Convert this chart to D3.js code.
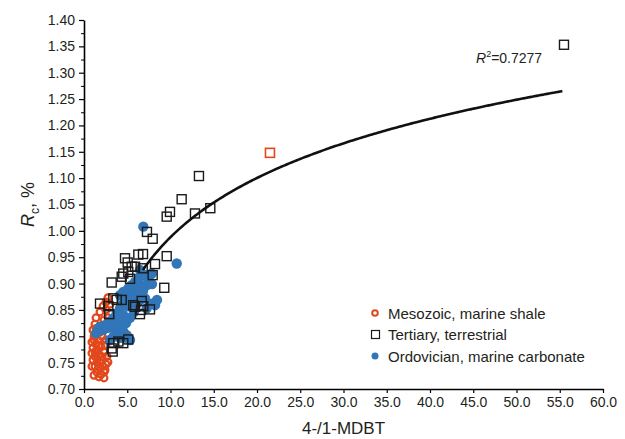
<!DOCTYPE html>
<html>
<head>
<meta charset="utf-8">
<script src="https://cdn.jsdelivr.net/npm/d3@7"></script>
<style>
  body { margin: 0; background: #fff; }
  svg { font-family: "Liberation Sans", Arial, sans-serif; }
</style>
</head>
<body>
<div id="chart"></div>
<script>
// Mesozoic, marine shale  [4-/1-MDBT, Rc %]
const mesozoic = [
  [2.77, 0.873], [2.54, 0.865], [2.20, 0.857], [3.00, 0.861], [1.85, 0.846],
  [1.39, 0.835], [1.27, 0.823], [1.73, 0.817], [1.50, 0.812], [2.31, 0.831],
  [2.77, 0.835], [1.16, 0.800], [1.62, 0.793], [1.39, 0.785], [1.04, 0.778],
  [1.50, 0.774], [1.97, 0.780], [0.92, 0.768], [1.27, 0.762], [1.73, 0.766],
  [2.31, 0.770], [2.66, 0.762], [1.04, 0.755], [1.50, 0.751], [1.97, 0.755],
  [1.27, 0.743], [1.73, 0.740], [2.20, 0.743], [2.54, 0.747], [1.50, 0.732],
  [1.97, 0.728], [2.31, 0.732], [1.73, 0.723], [1.16, 0.793], [2.08, 0.800],
  [1.39, 0.815], [0.92, 0.789], [1.85, 0.751], [2.43, 0.736], [1.04, 0.812],
  [1.27, 0.770], [2.08, 0.761], [1.73, 0.783], [2.43, 0.783], [1.85, 0.808],
  [2.54, 0.850], [2.20, 0.821], [1.16, 0.726], [2.31, 0.721], [0.92, 0.743],
  [2.77, 0.751], [2.54, 0.793]
];
// highlighted Mesozoic sample drawn as a square
const mesozoicSquare = [[21.5, 1.148]];

// Tertiary, terrestrial
const tertiary = [
  [55.49, 1.353], [13.29, 1.104], [11.29, 1.060], [9.94, 1.036], [9.56, 1.027],
  [12.83, 1.033], [14.60, 1.043], [7.28, 0.998], [7.94, 0.985], [9.56, 0.952],
  [8.21, 0.937], [7.94, 0.916], [6.82, 0.956], [6.28, 0.955], [6.79, 0.929],
  [9.28, 0.892], [4.74, 0.948], [5.05, 0.940], [5.51, 0.932], [5.90, 0.932],
  [4.54, 0.919], [4.36, 0.913], [5.12, 0.922], [5.32, 0.909], [3.20, 0.902],
  [3.39, 0.872], [3.78, 0.869], [4.36, 0.869], [1.85, 0.862], [2.81, 0.857],
  [5.70, 0.859], [5.90, 0.856], [6.67, 0.867], [6.86, 0.857], [6.59, 0.850],
  [7.63, 0.851], [6.47, 0.842], [2.92, 0.842], [5.12, 0.794], [3.39, 0.787],
  [3.97, 0.790], [4.54, 0.787], [3.20, 0.777], [3.32, 0.771]
];

// Ordovician, marine carbonate
const ordovician = [
  [6.86, 1.008], [10.72, 0.938], [6.47, 0.926], [7.05, 0.916], [7.43, 0.910],
  [7.83, 0.919], [6.67, 0.897], [6.28, 0.891], [5.90, 0.884], [5.32, 0.878],
  [4.94, 0.872], [5.51, 0.865], [7.83, 0.862], [7.25, 0.853], [4.54, 0.862],
  [4.16, 0.853], [3.78, 0.843], [4.54, 0.840], [3.39, 0.834], [3.01, 0.828],
  [2.43, 0.821], [1.85, 0.818], [4.16, 0.831], [3.58, 0.812], [4.54, 0.809],
  [4.94, 0.802], [5.12, 0.796], [3.78, 0.802], [3.39, 0.799], [6.08, 0.862],
  [6.47, 0.869], [7.05, 0.872], [6.28, 0.907], [5.90, 0.903], [5.51, 0.897],
  [5.12, 0.891], [4.54, 0.884], [4.16, 0.878], [3.01, 0.793], [5.32, 0.793],
  [2.20, 0.812], [2.77, 0.816], [3.93, 0.821], [4.86, 0.825], [5.32, 0.835],
  [5.78, 0.846], [5.09, 0.857], [6.13, 0.876], [6.82, 0.886], [7.28, 0.897],
  [7.86, 0.899], [8.21, 0.859], [1.62, 0.812], [1.39, 0.806], [4.16, 0.797],
  [6.47, 0.914], [8.44, 0.869]
];

// logarithmic trend line  Rc = a*ln(x) + b, drawn over this x range
const fitA = 0.162;
const fitB = 0.615;
const fitRange = [6.8, 55.3];
const fitLabel = "0.7277";

const xTicks = d3.range(0, 60.01, 5);
const yTicks = d3.range(0.70, 1.4001, 0.05);
const legendLabels = ["Mesozoic, marine shale", "Tertiary, terrestrial", "Ordovician, marine carbonate"];

const red = "#e2481c";
const blue = "#3176b8";
const ink = "#231f20";

const width = 625, height = 439;
const svg = d3.select("#chart").append("svg")
  .attr("width", width)
  .attr("height", height);

const x = d3.scaleLinear().domain([0, 60]).range([84, 603]);
const y = d3.scaleLinear().domain([0.7, 1.4]).range([389, 20]);

// minor y ticks
svg.append("g")
  .attr("transform", `translate(${x(0)},0)`)
  .call(d3.axisLeft(y).tickValues(yTicks.slice(0, -1).map(v => v + 0.025)).tickSize(3).tickFormat(""))
  .call(g => g.select(".domain").remove())
  .call(g => g.selectAll("line").attr("stroke", "#000").attr("stroke-width", 1));

// y axis
svg.append("g")
  .attr("transform", `translate(${x(0)},0)`)
  .call(d3.axisLeft(y).tickValues(yTicks).tickFormat(d3.format(".2f")).tickSize(5).tickSizeOuter(0))
  .call(g => g.select(".domain").attr("stroke", "#000").attr("stroke-width", 1.6))
  .call(g => g.selectAll("line").attr("stroke", "#000").attr("stroke-width", 1.2))
  .call(g => g.selectAll("text").attr("font-size", 14).attr("fill", ink).attr("font-family", null).attr("x", -9));

// x axis
svg.append("g")
  .attr("transform", `translate(0,${y(0.7)})`)
  .call(d3.axisBottom(x).tickValues(xTicks).tickFormat(d3.format(".1f")).tickSize(4).tickSizeOuter(0))
  .call(g => g.select(".domain").attr("stroke", "#000").attr("stroke-width", 1.6))
  .call(g => g.selectAll("line").attr("stroke", "#000").attr("stroke-width", 1.2))
  .call(g => g.selectAll("text").attr("font-size", 14).attr("fill", ink).attr("font-family", null).attr("y", 8));

// axis titles
svg.append("text")
  .attr("x", (x(0) + x(60)) / 2)
  .attr("y", 434)
  .attr("text-anchor", "middle")
  .attr("font-size", 17)
  .attr("fill", ink)
  .text("4-/1-MDBT");

const yTitle = svg.append("text")
  .attr("transform", `translate(34,${(y(0.7) + y(1.4)) / 2}) rotate(-90)`)
  .attr("text-anchor", "middle")
  .attr("font-size", 18)
  .attr("fill", ink);
yTitle.append("tspan").attr("font-style", "italic").text("R");
yTitle.append("tspan").attr("font-size", 12).attr("dy", 5).text("c");
yTitle.append("tspan").attr("dy", -5).text(", %");

// points: Mesozoic circles
svg.append("g")
  .selectAll("circle")
  .data(mesozoic)
  .join("circle")
  .attr("cx", d => x(d[0]))
  .attr("cy", d => y(d[1]))
  .attr("r", 3.4)
  .attr("fill", "none")
  .attr("stroke", red)
  .attr("stroke-width", 2.2);

svg.append("g")
  .selectAll("rect")
  .data(mesozoicSquare)
  .join("rect")
  .attr("x", d => x(d[0]) - 4.5)
  .attr("y", d => y(d[1]) - 4.5)
  .attr("width", 9)
  .attr("height", 9)
  .attr("fill", "none")
  .attr("stroke", red)
  .attr("stroke-width", 1.6);

// Ordovician filled circles
svg.append("g")
  .selectAll("circle")
  .data(ordovician)
  .join("circle")
  .attr("cx", d => x(d[0]))
  .attr("cy", d => y(d[1]))
  .attr("r", 5.2)
  .attr("fill", blue);

// Tertiary squares
svg.append("g")
  .selectAll("rect")
  .data(tertiary)
  .join("rect")
  .attr("x", d => x(d[0]) - 4.5)
  .attr("y", d => y(d[1]) - 4.5)
  .attr("width", 9)
  .attr("height", 9)
  .attr("fill", "none")
  .attr("stroke", "#1a1a1a")
  .attr("stroke-width", 1.4);

// trend line
const fitX = d3.range(fitRange[0], fitRange[1] + 0.001, 0.25);
const line = d3.line()
  .x(d => x(d))
  .y(d => y(fitA * Math.log(d) + fitB))
  .curve(d3.curveMonotoneX);
svg.append("path")
  .datum(fitX)
  .attr("d", line)
  .attr("fill", "none")
  .attr("stroke", "#111")
  .attr("stroke-width", 2.6);

const r2 = svg.append("text")
  .attr("x", 476)
  .attr("y", 63)
  .attr("font-size", 14)
  .attr("fill", ink);
r2.append("tspan").attr("font-style", "italic").text("R");
r2.append("tspan").attr("font-size", 9).attr("dy", -6).text("2");
r2.append("tspan").attr("dy", 6).text("=" + fitLabel);

// legend
const legend = svg.append("g").attr("transform", "translate(375,0)");
const legendY = [314, 335, 357];
legend.append("circle").attr("cx", 0).attr("cy", legendY[0] - 1).attr("r", 2.8)
  .attr("fill", "none").attr("stroke", red).attr("stroke-width", 2);
legend.append("rect").attr("x", -3.5).attr("y", legendY[1] - 4.5).attr("width", 8).attr("height", 8)
  .attr("fill", "none").attr("stroke", "#1a1a1a").attr("stroke-width", 1.2);
legend.append("circle").attr("cx", 0).attr("cy", legendY[2] - 1).attr("r", 3.5).attr("fill", blue);
legend.selectAll("text.lab")
  .data(legendLabels)
  .join("text")
  .attr("class", "lab")
  .attr("x", 13)
  .attr("y", (d, i) => legendY[i] + 5)
  .attr("font-size", 15)
  .attr("fill", ink)
  .text(d => d);
</script>
</body>
</html>
